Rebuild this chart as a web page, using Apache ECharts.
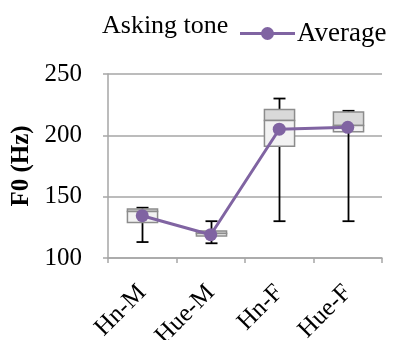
<!DOCTYPE html>
<html>
<head>
<meta charset="utf-8">
<script src="https://cdn.jsdelivr.net/npm/echarts@6/dist/echarts.min.js"></script>
<style>html,body{margin:0;padding:0;background:#fff}#c{width:395px;height:340px}</style>
</head>
<body>
<div id="c"></div>
<script>
var categories = ['Hn-M', 'Hue-M', 'Hn-F', 'Hue-F'];
var whiskerMin = [113, 112, 130, 130];
var q1 = [129, 118, 191, 203];
var median = [138, 120, 212, 208];
var q3 = [140, 122, 221, 219];
var whiskerMax = [141, 130, 230, 220];
var average = [134.5, 119, 205, 206.5];
var yTicks = [100, 150, 200, 250];

var boxData = categories.map(function (c, i) {
  return [i, whiskerMin[i], q1[i], median[i], q3[i], whiskerMax[i]];
});

var FONT = '"Liberation Serif", "Times New Roman", serif';
var chart = echarts.init(document.getElementById('c'), null, {renderer: 'canvas'});

function renderBox(params, api) {
  var x = api.value(0);
  var pMin = api.coord([x, api.value(1)]);
  var pQ1 = api.coord([x, api.value(2)]);
  var pMed = api.coord([x, api.value(3)]);
  var pQ3 = api.coord([x, api.value(4)]);
  var pMax = api.coord([x, api.value(5)]);
  var bw = api.size([1, 0])[0] * 0.44;
  var cw = 12;
  var cx = Math.round(pMin[0]) + 0.5;
  var lineStyle = {stroke: '#000', lineWidth: 1.8};
  var border = '#8c8c8c';
  return {
    type: 'group',
    children: [
      {type: 'line', shape: {x1: cx, y1: pMin[1], x2: cx, y2: pMax[1]}, style: lineStyle},
      {type: 'line', shape: {x1: cx - cw / 2, y1: pMin[1], x2: cx + cw / 2, y2: pMin[1]}, style: lineStyle},
      {type: 'line', shape: {x1: cx - cw / 2, y1: pMax[1], x2: cx + cw / 2, y2: pMax[1]}, style: lineStyle},
      {type: 'rect', shape: {x: cx - bw / 2, y: pQ3[1], width: bw, height: pMed[1] - pQ3[1]},
        style: {fill: '#d9d9d9', stroke: border, lineWidth: 1.5}},
      {type: 'rect', shape: {x: cx - bw / 2, y: pMed[1], width: bw, height: pQ1[1] - pMed[1]},
        style: {fill: '#f2f2f2', stroke: border, lineWidth: 1.5}}
    ]
  };
}

var legendIcon = 'path://M0,6.5 L21.3,6.5 L21.3,9.5 L0,9.5 Z M33.7,6.5 L55,6.5 L55,9.5 L33.7,9.5 Z M21,8 A6.5,6.5 0 1,1 34,8 A6.5,6.5 0 1,1 21,8 Z';

chart.setOption({
  animation: false,
  backgroundColor: '#fff',
  grid: {left: 108, right: 13, top: 74, bottom: 82, containLabel: false, outerBoundsMode: 'none'},
  graphic: [{
    type: 'text', left: 102, top: 13,
    style: {text: 'Asking tone', font: '26px ' + FONT, fill: '#000'}
  }],
  legend: {
    data: [{name: 'Average', icon: legendIcon}], left: 240, top: 20, padding: 0,
    itemWidth: 55, itemHeight: 13, itemGap: 4,
    textStyle: {fontFamily: FONT, fontSize: 27, color: '#000', padding: [0, 0, 0, -3]}
  },
  xAxis: {
    type: 'category', data: categories, boundaryGap: true,
    axisLine: {lineStyle: {color: '#a6a6a6', width: 1.5}},
    axisTick: {show: true, length: 5, lineStyle: {color: '#a6a6a6', width: 1.5}},
    axisLabel: {rotate: 45, margin: 31, fontFamily: FONT, fontSize: 25, color: '#000', interval: 0}
  },
  yAxis: {
    type: 'value', min: 100, max: 250, interval: 50,
    name: 'F0 (Hz)', nameLocation: 'middle', nameGap: 66, nameRotate: 90,
    nameTextStyle: {fontFamily: FONT, fontSize: 25, fontWeight: 'bold', color: '#000'},
    axisLine: {show: true, lineStyle: {color: '#a6a6a6', width: 1.5}},
    axisTick: {show: true, length: 5, lineStyle: {color: '#a6a6a6', width: 1.5}},
    axisLabel: {margin: 26, fontFamily: FONT, fontSize: 25, color: '#000',
      formatter: function (v) { return yTicks.indexOf(v) >= 0 ? String(v) : ''; }},
    splitLine: {lineStyle: {color: '#a6a6a6', width: 1.5}}
  },
  series: [
    {
      name: 'Box', type: 'custom', renderItem: renderBox, data: boxData,
      encode: {x: 0, y: [1, 2, 3, 4, 5]}, z: 2
    },
    {
      name: 'Average', type: 'line', data: average, z: 3,
      symbol: 'circle', symbolSize: 13,
      itemStyle: {color: '#8064a2'},
      lineStyle: {color: '#8064a2', width: 3}
    }
  ]
});
</script>
</body>
</html>
